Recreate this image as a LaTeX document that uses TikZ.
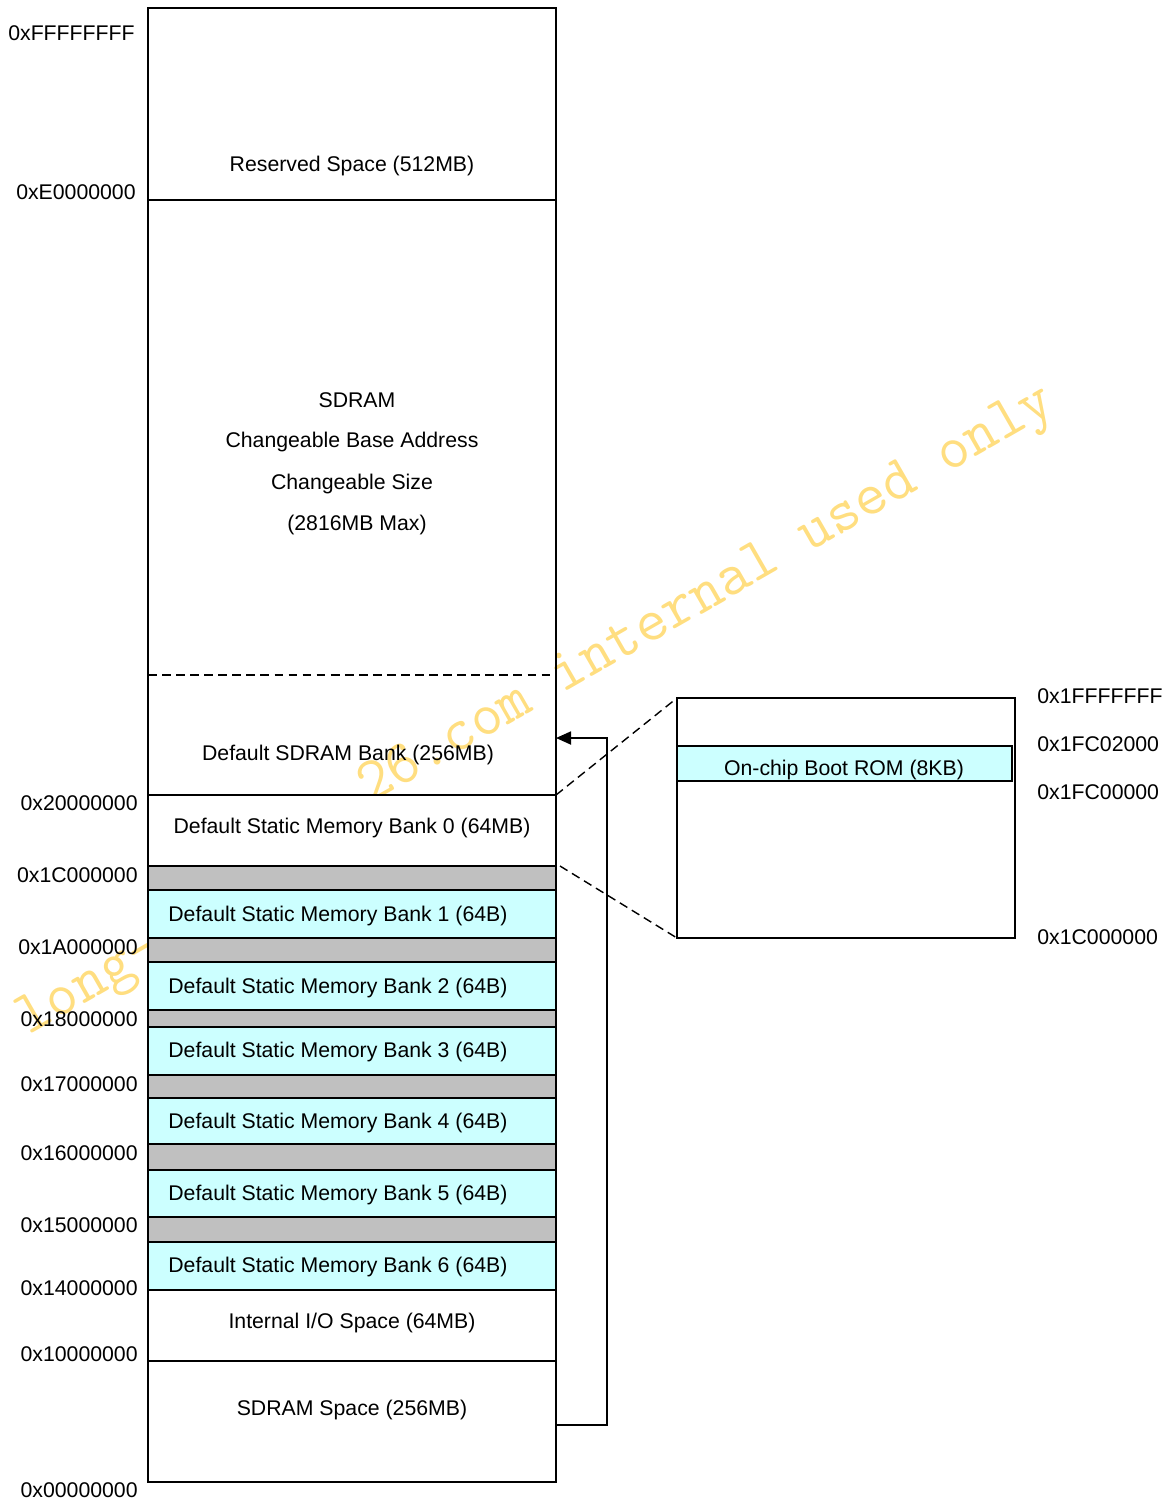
\documentclass[tikz,border=0pt]{standalone}
\usepackage{fontspec}
\setmainfont{Liberation Sans}
\usetikzlibrary{arrows.meta, calc}

\definecolor{bankcyan}{RGB}{204,255,255}
\definecolor{gapgray}{RGB}{192,192,192}
\definecolor{wmyellow}{RGB}{255,222,128}

\begin{document}
\begin{tikzpicture}[x=0.02cm, y=-0.02cm, >={Triangle[length=3mm, width=2.6mm]},
  region/.style={draw, line width=1.05pt},
  txt/.style={font=\fontsize{12.1}{14}\selectfont, inner sep=0pt, yshift=-1.1pt},
  addr/.style={txt, anchor=east},
  wm/.style={font=\ttfamily\fontsize{35}{37}\selectfont, text=wmyellow,
    rotate=29.8, anchor=base west, inner sep=0pt},
  zoomline/.style={dash pattern=on 5pt off 3pt, line width=0.8pt}]
  \useasboundingbox (0,0) rectangle (1170,1499);

  % Watermark
  \node[wm] (wmhead) at (28,1036) {long-};
  \node[wm] (wmtail) at (370,804) {26.com internal used only};

  % Upper space
  \draw[region] (148,8) rectangle (556,200);
  \draw[region] (148,200) rectangle (556,795);
  \draw[zoomline] (148,675) -- (550,675);

  % Static banks and I/O
  \draw[region, fill=white] (148,795) rectangle (556,866);
  \foreach \top/\mid/\bot in {866/890/938, 938/962/1010, 1010/1027/1075,
      1075/1098/1144, 1144/1170/1217, 1217/1242/1290} {
    \draw[region, fill=gapgray] (148,\top) rectangle (556,\mid);
    \draw[region, fill=bankcyan] (148,\mid) rectangle (556,\bot);
  }
  \draw[region, fill=white] (148,1290) rectangle (556,1361);
  \draw[region, fill=white] (148,1361) rectangle (556,1482);

  % Region labels
  \node[txt] (resv) at (352,164) {Reserved Space (512MB)};
  \node[txt] (sdram1) at (357,398) {SDRAM};
  \node[txt] (sdram2) at (352,440) {Changeable Base Address};
  \node[txt] (sdram3) at (352,482) {Changeable Size};
  \node[txt] (sdram4) at (357,523) {(2816MB Max)};
  \node[txt] (dbank) at (348,753) {Default SDRAM Bank (256MB)};
  \node[txt] (bank0) at (352,826) {Default Static Memory Bank 0 (64MB)};
  \foreach \n/\y in {1/914, 2/986, 3/1050, 4/1121, 5/1193, 6/1265}
    \node[txt, anchor=west] (bank\n) at (168,\y) {Default Static Memory Bank \n\ (64B)};
  \node[txt] (iosp) at (352,1321) {Internal I/O Space (64MB)};
  \node[txt] (sdsp) at (352,1408) {SDRAM Space (256MB)};

  % Addresses
  \node[addr] (aTop) at (135,31) {0xFFFFFFFF};
  \node[addr] (aE) at (136,190) {0xE0000000};
  \foreach \a/\y [count=\i] in {0x20000000/801, 0x1C000000/873, 0x1A000000/945,
      0x18000000/1017, 0x17000000/1082, 0x16000000/1151, 0x15000000/1223,
      0x14000000/1286, 0x10000000/1352, 0x00000000/1488}
    \node[addr] (a\i) at (138,\y) {\a};

  % Boot ROM detail
  \draw[line width=1.3pt] (677,698) rectangle (1015,938);
  \draw[region, fill=bankcyan] (677,746) rectangle (1012,781);
  \node[txt] (rom) at (844,768) {On-chip Boot ROM (8KB)};
  \foreach \a/\y [count=\i] in {0x1FFFFFFF/694, 0x1FC02000/742,
      0x1FC00000/790, 0x1C000000/935}
    \node[txt, anchor=west] (r\i) at (1037,\y) {\a};

  % Connectors
  \coordinate (b0NE) at (556,795);
  \coordinate (b0SE) at (560,866);
  \coordinate (romNW) at (677,698);
  \coordinate (romSW) at (677,938);
  \coordinate (spcR) at (556,1425);
  \coordinate (bankR) at (556,738);
  \draw[zoomline] (b0NE) -- (romNW);
  \draw[zoomline] (b0SE) -- (romSW);
  \draw[->, line width=1pt] (spcR) -- ++(51,0) |- (bankR);
\end{tikzpicture}
\end{document}
